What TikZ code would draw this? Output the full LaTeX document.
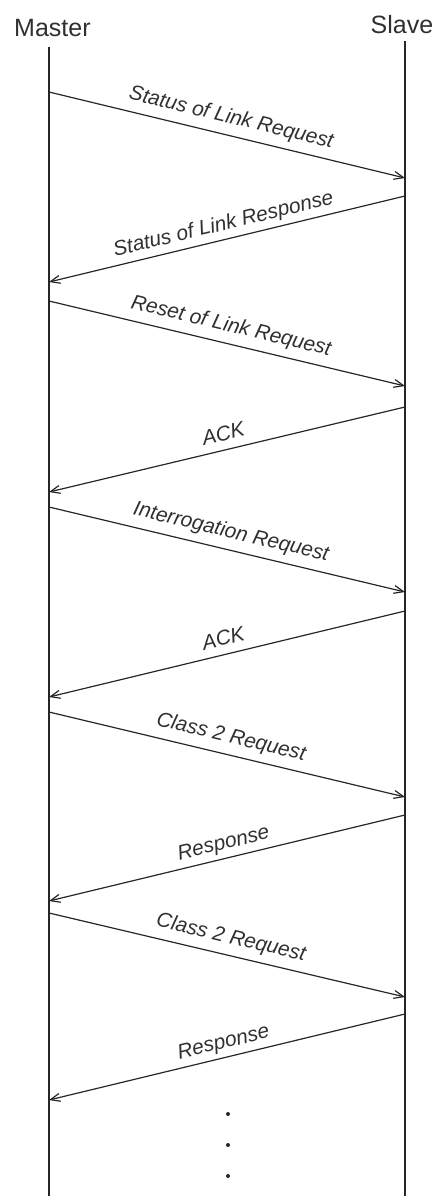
\documentclass[tikz,border=0pt]{standalone}
\usepackage{fontspec}
\setmainfont{Liberation Sans}
\usetikzlibrary{arrows.meta,positioning}

\definecolor{lineGray}{HTML}{262626}
\definecolor{textGray}{HTML}{303030}

\tikzset{
  lifeline/.style={line width=1.5pt,draw=lineGray},
  msg/.style={line width=0.85pt,draw=lineGray,-{Straight Barb[length=2.4mm,width=2mm]}},
  party/.style={anchor=base,inner sep=0pt,text=textGray,font=\fontsize{17.8}{21}\selectfont},
  msglabel/.style={midway,sloped,inner sep=0pt,text=textGray,font=\itshape\fontsize{14.8}{17}\selectfont},
  reqlabel/.style={msglabel,above=8.5pt,anchor=base},
  resplabel/.style={msglabel,above=6.5pt,anchor=base}
}

\begin{document}
\begin{tikzpicture}
  \useasboundingbox (0,0) rectangle (10.925,-29.9);
  % Parties
  \node[party] (master) at (1.31,-0.9) {Master};
  \node[party] (slave) at (10.05,-0.825) {Slave};
  % Lifelines
  \coordinate (mtop) at (1.225,-1.175);
  \coordinate (mbot) at (1.225,-29.9);
  \coordinate (stop) at (10.125,-1.025);
  \coordinate (sbot) at (10.125,-29.9);
  \draw[lifeline] (mtop) -- (mbot);
  \draw[lifeline] (stop) -- (sbot);
  % Message ends on the lifelines
  \coordinate (m1) at (1.225,-2.3);    \coordinate (s1) at (10.125,-4.45);
  \coordinate (s2) at (10.125,-4.9);   \coordinate (m2) at (1.225,-7.05);
  \coordinate (m3) at (1.225,-7.525);  \coordinate (s3) at (10.125,-9.65);
  \coordinate (s4) at (10.125,-10.175); \coordinate (m4) at (1.225,-12.3);
  \coordinate (m5) at (1.225,-12.675); \coordinate (s5) at (10.125,-14.8);
  \coordinate (s6) at (10.125,-15.275); \coordinate (m6) at (1.225,-17.425);
  \coordinate (m7) at (1.225,-17.8);   \coordinate (s7) at (10.125,-19.925);
  \coordinate (s8) at (10.125,-20.375); \coordinate (m8) at (1.225,-22.525);
  \coordinate (m9) at (1.225,-22.825); \coordinate (s9) at (10.125,-24.925);
  \coordinate (s10) at (10.125,-25.35); \coordinate (m10) at (1.225,-27.5);
  % Messages
  \draw[msg] (m1) -- (s1) node[reqlabel] (l1) {Status of Link Request};
  \draw[msg] (s2) -- (m2) node[resplabel] (l2) {Status of Link Response};
  \draw[msg] (m3) -- (s3) node[reqlabel] (l3) {Reset of Link Request};
  \draw[msg] (s4) -- (m4) node[resplabel] (l4) {ACK};
  \draw[msg] (m5) -- (s5) node[reqlabel] (l5) {Interrogation Request};
  \draw[msg] (s6) -- (m6) node[resplabel] (l6) {ACK};
  \draw[msg] (m7) -- (s7) node[reqlabel] (l7) {Class 2 Request};
  \draw[msg] (s8) -- (m8) node[resplabel] (l8) {Response};
  \draw[msg] (m9) -- (s9) node[reqlabel] (l9) {Class 2 Request};
  \draw[msg] (s10) -- (m10) node[resplabel] (l10) {Response};
  % Continuation dots
  \fill[lineGray] (5.7,-27.85) circle (0.05);
  \fill[lineGray] (5.7,-28.625) circle (0.05);
  \fill[lineGray] (5.7,-29.4) circle (0.05);
\end{tikzpicture}
\end{document}
